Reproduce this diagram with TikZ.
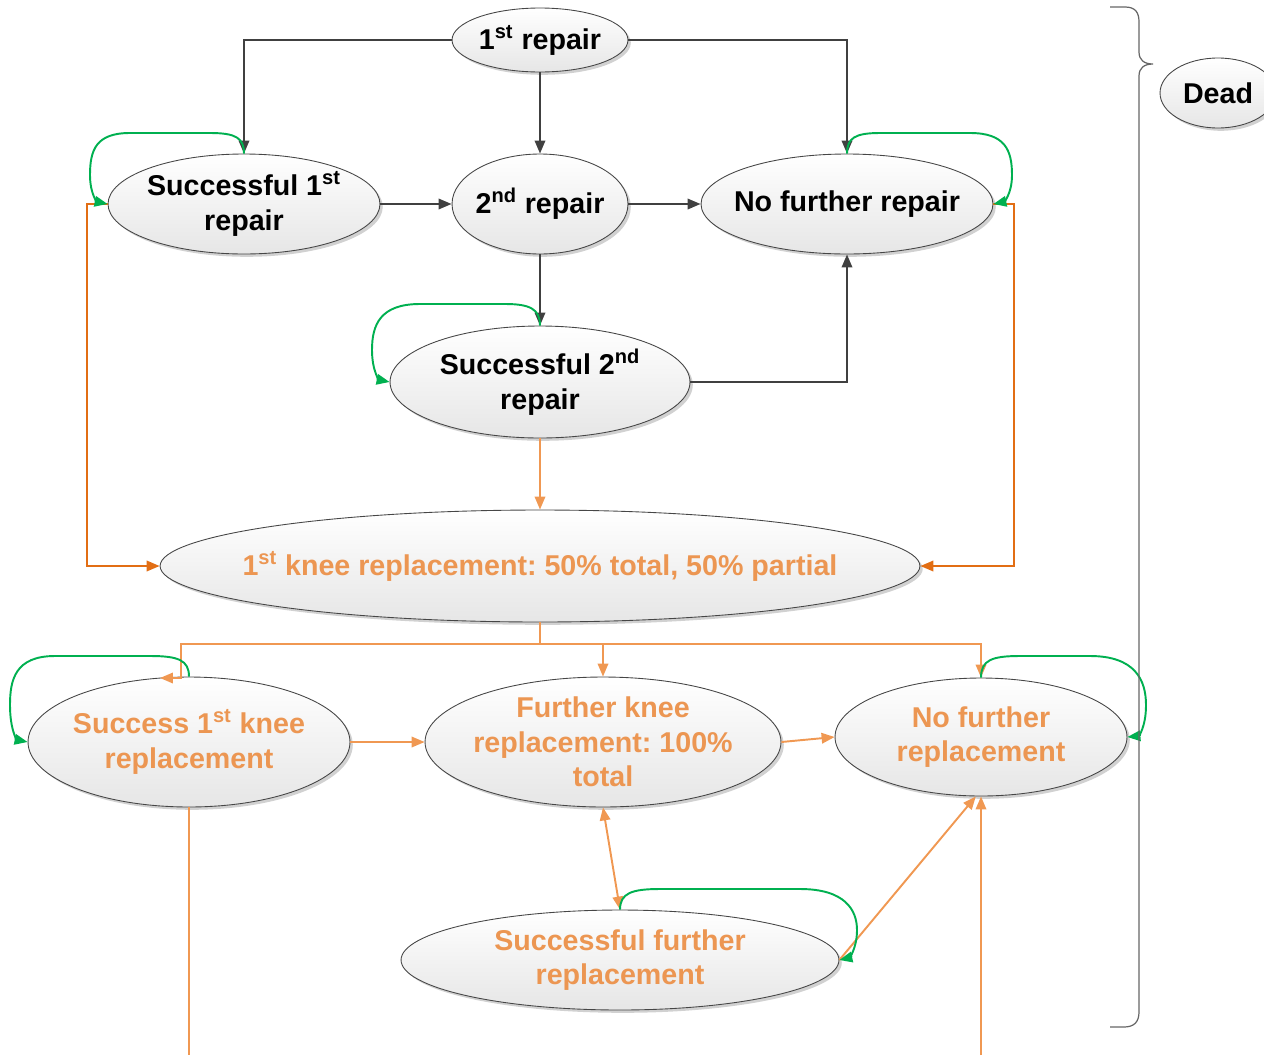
\documentclass[tikz,border=0pt]{standalone}
\usepackage{fontspec}
\setmainfont{Liberation Sans}
\frenchspacing
\usetikzlibrary{shapes.geometric,arrows.meta,shadows}
\definecolor{orL}{RGB}{240,152,82}
\definecolor{orT}{RGB}{236,150,82}
\definecolor{orD}{RGB}{226,110,20}
\definecolor{grn}{RGB}{0,176,80}
\definecolor{drk}{RGB}{64,64,64}
\definecolor{bord}{RGB}{70,70,70}
\definecolor{shd}{RGB}{230,230,230}
\begin{document}
\begin{tikzpicture}[x=0.02cm,y=-0.02cm,
  st/.style={ellipse, draw=bord, line width=0.5pt, top color=white, bottom color=shd, inner sep=0pt,
     drop shadow={shadow xshift=1.6pt,shadow yshift=-1.6pt,opacity=0.3,fill=black!60}},
  tx/.style={align=center, font=\fontsize{16.3pt}{19.7pt}\selectfont\bfseries, text=black, inner sep=0pt},
  txo/.style={tx, text=orT},
  tip/.style={-{Triangle[length=2.6mm,width=2.1mm]}},
  darr/.style={tip, draw=drk, line width=1.1pt},
  oarr/.style={tip, draw=orL, line width=1.1pt},
  oline/.style={draw=orL, line width=1.1pt},
  odarr/.style={tip, draw=orD, line width=1.1pt},
  loopg/.style={tip, draw=grn, line width=1.1pt},
  brace/.style={draw=black!60, line width=0.7pt}
]
\useasboundingbox (0,0) rectangle (1264,1055);

% nodes
\node[st, minimum width=3.52cm, minimum height=1.28cm] (r1) at (540,40) {};
\node[tx] at (r1) {1\textsuperscript{st} repair};
\node[st, minimum width=5.44cm, minimum height=2cm] (s1) at (244,204) {};
\node[tx] at (s1) {Successful 1\textsuperscript{st}\\repair};
\node[st, minimum width=3.52cm, minimum height=2cm] (r2) at (540,204) {};
\node[tx] at (r2) {2\textsuperscript{nd} repair};
\node[st, minimum width=5.84cm, minimum height=2cm] (nf) at (847,204) {};
\node[tx] at (nf) {No further repair};
\node[st, minimum width=6cm, minimum height=2.24cm] (s2) at (540,382) {};
\node[tx] at (s2) {Successful 2\textsuperscript{nd}\\repair};
\node[st, minimum width=15.2cm, minimum height=2.24cm] (k1) at (540,566) {};
\node[txo] at (k1) {1\textsuperscript{st} knee replacement: 50\% total, 50\% partial};
\node[st, minimum width=6.44cm, minimum height=2.6cm] (sk) at (189,742) {};
\node[txo] at (sk) {Success 1\textsuperscript{st} knee\\replacement};
\node[st, minimum width=7.12cm, minimum height=2.6cm] (fk) at (603,742) {};
\node[txo] at (fk) {Further knee\\replacement: 100\%\\total};
\node[st, minimum width=5.84cm, minimum height=2.36cm] (nr) at (981,737) {};
\node[txo] at (nr) {No further\\replacement};
\node[st, minimum width=8.76cm, minimum height=2cm] (sf) at (620,960) {};
\node[txo] at (sf) {Successful further\\replacement};
\node[st, minimum width=2.32cm, minimum height=1.4cm] (dead) at (1218,93) {};
\node[tx] at (dead) {Dead};

% dark arrows
\draw[darr] (r1.west) -| (s1.north);
\draw[darr] (r1.south) -- (r2.north);
\draw[darr] (r1.east) -| (nf.north);
\draw[darr] (s1.east) -- (r2.west);
\draw[darr] (r2.east) -- (nf.west);
\draw[darr] (r2.south) -- (s2.north);
\draw[darr] (s2.east) -| (nf.south);

% dark orange
\draw[odarr] (s1.west) -- ++(-21,0) |- (k1.west);
\draw[odarr] (nf.east) -- ++(21,0) |- (k1.east);

% light orange
\coordinate (bus) at (540,644);
\coordinate (skin) at (160,678);
\coordinate (skbot) at (189,1055);
\coordinate (nrbot) at (981,1055);
\draw[oarr] (s2.south) -- (k1.north);
\draw[oarr] (k1.south) -- (bus) -- (181,644) -- (181,678) -- (skin);
\draw[oarr] (bus) -| (fk.north);
\draw[oarr] (bus) -| (nr.north);
\draw[oarr] (sk.east) -- (fk.west);
\draw[oarr] (fk.east) -- (nr.west);
\draw[oarr, {Triangle[length=2.6mm,width=2.1mm]}-{Triangle[length=2.6mm,width=2.1mm]}] (fk.south) -- (sf.north);
\draw[oarr] (sf.east) -- (nr.265);
\draw[oline] (sk.south) -- (skbot);
\draw[oarr] (nrbot) -- (nr.south);

% green self loops
\draw[loopg] (s1.north) .. controls (244,138) and (236,133) .. (210,133) -- (130,133)
  .. controls (96,133) and (90,150) .. (90,175) .. controls (90,195) and (98,202) .. (s1.west);
\draw[loopg] (nf.north) .. controls (847,138) and (855,133) .. (880,133) -- (970,133)
  .. controls (1005,133) and (1012,150) .. (1012,175) .. controls (1012,195) and (1003,202) .. (nf.east);
\draw[loopg] (s2.north) .. controls (540,309) and (530,304) .. (505,304) -- (420,304)
  .. controls (380,304) and (372,325) .. (372,350) .. controls (372,372) and (380,380) .. (s2.west);
\draw[loopg] (sk.north) .. controls (189,660) and (178,656) .. (150,656) -- (55,656)
  .. controls (15,656) and (10,680) .. (10,705) .. controls (10,732) and (18,740) .. (sk.west);
\draw[loopg] (nr.north) .. controls (981,660) and (992,656) .. (1020,656) -- (1090,656)
  .. controls (1135,656) and (1146,680) .. (1146,705) .. controls (1146,728) and (1138,736) .. (nr.east);
\draw[loopg] (sf.north) .. controls (620,893) and (632,889) .. (660,889) -- (800,889)
  .. controls (845,889) and (857,910) .. (857,930) .. controls (857,950) and (848,958) .. (sf.east);

% brace
\draw[brace] (1110,7) -- (1125,7) .. controls (1135,7) and (1139,12) .. (1139,22) -- (1139,52)
  .. controls (1139,60) and (1144,64) .. (1153,64) .. controls (1144,64) and (1139,68) .. (1139,76)
  -- (1139,1012) .. controls (1139,1022) and (1134,1027) .. (1124,1027) -- (1110,1027);
\end{tikzpicture}
\end{document}
